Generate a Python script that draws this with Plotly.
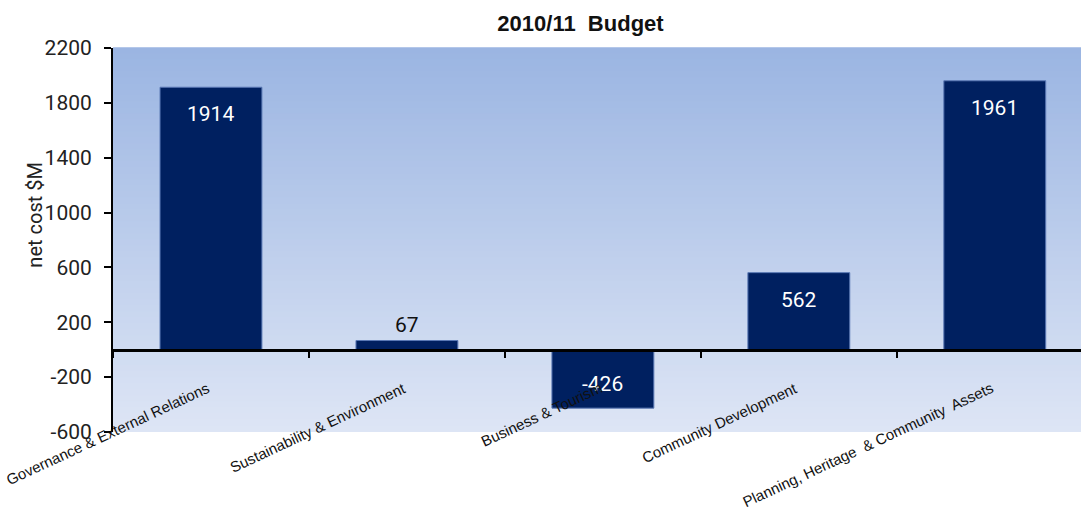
import numpy as np
import plotly.graph_objects as go

# Budget figures ($M) by portfolio
categories = [
    "Governance & External Relations",
    "Sustainability & Environment",
    "Business & Tourism",
    "Community Development",
    "Planning, Heritage  & Community  Assets",
]
net_cost = [1914, 67, -426, 562, 1961]
y_ticks = [-600, -200, 200, 600, 1000, 1400, 1800, 2200]

BAR = "#002060"
NUM_FONT = "Roboto, Liberation Sans, sans-serif"
LAB_FONT = "Liberation Sans, Arial, sans-serif"

fig = go.Figure()
fig.add_trace(go.Bar(
    x=categories, y=net_cost, width=0.52,
    marker=dict(color=BAR, line=dict(color="#5a78b4", width=1)),
    hoverinfo="x+y",
))

# vertical gradient behind the plotting area
top = np.array([155, 181, 226])
bot = np.array([221, 229, 245])
n = 64
shapes = []
for i in range(n):
    t = i / (n - 1)
    c = (top * (1 - t) + bot * t).round().astype(int)
    shapes.append(dict(
        type="rect", xref="x domain", yref="y domain",
        x0=0, x1=1, y0=1 - (i + 1) / n, y1=1 - i / n + 0.002,
        fillcolor=f"rgb({c[0]},{c[1]},{c[2]})", line=dict(width=0), layer="below",
    ))

annotations = []
# value labels
for cat, v in zip(categories, net_cost):
    if abs(v) < 300:
        annotations.append(dict(x=cat, y=v, text=str(v), showarrow=False,
                                yanchor="bottom", yshift=2,
                                font=dict(family=NUM_FONT, size=21, color="#111")))
    else:
        annotations.append(dict(x=cat, y=v, text=str(v), showarrow=False,
                                yanchor="middle", yshift=-27 if v > 0 else 24,
                                font=dict(family=NUM_FONT, size=21, color="white")))
# slanted category labels hanging from the zero line
for cat in categories:
    annotations.append(dict(x=cat, y=0, text=cat, showarrow=False, textangle=-25,
                            xanchor="right", yanchor="top", yshift=-27, xshift=4,
                            font=dict(family=LAB_FONT, size=15, color="#111")))
# y-axis caption, sitting a little above the axis midpoint
annotations.append(dict(xref="paper", yref="paper", x=-0.081, y=0.565,
                        text="net cost $M", showarrow=False, textangle=-90,
                        xanchor="center", yanchor="middle",
                        font=dict(family=NUM_FONT, size=20, color="#222")))

fig.update_layout(
    width=1081, height=511,
    margin=dict(l=113, r=0, t=48, b=79),
    paper_bgcolor="white", plot_bgcolor="rgba(0,0,0,0)",
    showlegend=False, bargap=0.48,
    title=dict(text="<b>2010/11  Budget</b>", x=0.537, xanchor="center",
               y=0.955, yanchor="middle",
               font=dict(family=LAB_FONT, size=22, color="#111")),
    shapes=shapes, annotations=annotations,
    xaxis=dict(
        type="category", range=[-0.5, 4.44],
        anchor="free", position=600 / 2800,
        showline=True, linecolor="black", linewidth=3,
        ticks="outside", tickson="boundaries", ticklen=6, tickwidth=2,
        tickcolor="black", showticklabels=False, showgrid=False, zeroline=False,
    ),
    yaxis=dict(
        range=[-600, 2200], tickvals=y_ticks, ticktext=[str(t) for t in y_ticks],
        showline=True, linecolor="black", linewidth=2,
        ticks="outside", ticklen=7, tickwidth=2, tickcolor="black",
        ticklabelstandoff=8,
        showgrid=False, zeroline=False,
        tickfont=dict(family=NUM_FONT, size=21, color="#222"),
    ),
)

fig.write_html("out.html")
